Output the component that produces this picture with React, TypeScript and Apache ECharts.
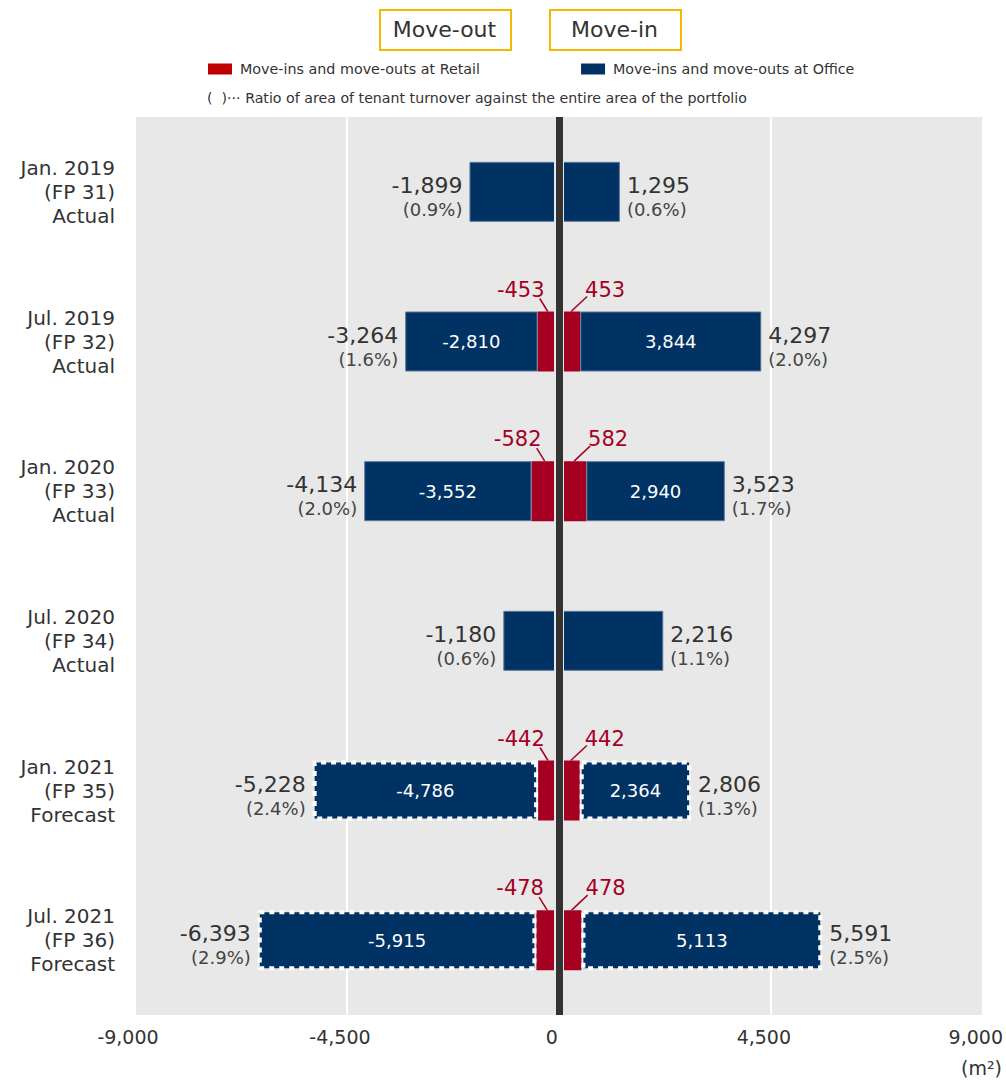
import React, { useEffect, useRef } from "react";
import * as echarts from "echarts";

const categories = [
  "Jan. 2019\n(FP 31)\nActual",
  "Jul. 2019\n(FP 32)\nActual",
  "Jan. 2020\n(FP 33)\nActual",
  "Jul. 2020\n(FP 34)\nActual",
  "Jan. 2021\n(FP 35)\nForecast",
  "Jul. 2021\n(FP 36)\nForecast",
];
const officeOut = [-1899, -2810, -3552, -1180, -4786, -5915];
const retailOut = [null, -453, -582, null, -442, -478];
const retailIn = [null, 453, 582, null, 442, 478];
const officeIn = [1295, 3844, 2940, 2216, 2364, 5113];
const totalOut = [-1899, -3264, -4134, -1180, -5228, -6393];
const totalIn = [1295, 4297, 3523, 2216, 2806, 5591];
const ratioOut = ["0.9%", "1.6%", "2.0%", "0.6%", "2.4%", "2.9%"];
const ratioIn = ["0.6%", "2.0%", "1.7%", "1.1%", "1.3%", "2.5%"];
const isForecast = [false, false, false, false, true, true];
const xTicks = { min: -9000, max: 9000, interval: 4500 };

const NAVY = "#003263";
const RED = "#a50021";
const FONT = "DejaVu Sans";
const TEXT = "#333333";
const BAR_W = 60;
const RETAIL_NAME = "Move-ins and move-outs at Retail";
const OFFICE_NAME = "Move-ins and move-outs at Office";

const fmt = (n: number) => n.toLocaleString("en-US");

function officeData(vals: number[]) {
  return vals.map((v, i) => ({
    value: v,
    label: { show: retailOut[i] != null },
    itemStyle: isForecast[i]
      ? { borderColor: "#ffffff", borderWidth: 4, borderType: [5, 5] }
      : { borderColor: "#5d7699", borderWidth: 1 },
  }));
}

export default function App() {
  const ref = useRef<HTMLDivElement>(null);
  useEffect(() => {
    if (!ref.current) return;
    const chart = echarts.init(ref.current, null, { renderer: "svg" });

    const retailLabelData: number[][] = [];
    retailOut.forEach((v, i) => {
      if (v != null) {
        retailLabelData.push([v, i]);
        retailLabelData.push([retailIn[i] as number, i]);
      }
    });

    const totalLabel = (side: "left" | "right") => ({
      show: true,
      position: side,
      distance: 7,
      offset: [0, 5],
      formatter: (p: any) => {
        const i = p.dataIndex;
        const v = side === "left" ? totalOut[i] : totalIn[i];
        const r = side === "left" ? ratioOut[i] : ratioIn[i];
        return `{a|${fmt(v)}}\n{b|(${r})}`;
      },
      rich: {
        a: { fontSize: 22, lineHeight: 25, color: TEXT, fontFamily: FONT },
        b: { fontSize: 18, lineHeight: 23, color: "#444444", fontFamily: FONT },
      },
    });

    const innerLabel = {
      position: "inside",
      color: "#ffffff",
      fontSize: 18,
      fontFamily: FONT,
      formatter: (p: any) => fmt(p.value),
    };

    chart.setOption({
      animation: false,
      textStyle: { fontFamily: FONT },
      grid: {
        left: 135,
        right: 19,
        top: 117,
        bottom: 65,
        show: true,
        backgroundColor: "#e8e8e8",
        borderWidth: 0,
      },
      legend: {
        left: 208,
        top: 62,
        padding: 0,
        itemWidth: 24,
        itemHeight: 11,
        itemGap: 101,
        selectedMode: false,
        textStyle: { fontSize: 14.3, color: TEXT, fontFamily: FONT, padding: [0, 0, 0, 3] },
        data: [
          { name: RETAIL_NAME, icon: "rect", itemStyle: { color: "#c00000", borderWidth: 0 } },
          { name: OFFICE_NAME, icon: "rect", itemStyle: { color: NAVY, borderWidth: 0 } },
        ],
      },
      xAxis: {
        type: "value",
        min: xTicks.min,
        max: xTicks.max,
        interval: xTicks.interval,
        axisLine: { show: false },
        axisTick: { show: false },
        splitLine: { show: true, lineStyle: { color: "#ffffff", width: 2 } },
        axisLabel: {
          fontSize: 19,
          color: TEXT,
          fontFamily: FONT,
          margin: 12,
          padding: [0, 14, 0, 0],
          formatter: (v: number) => fmt(v),
        },
      },
      yAxis: {
        type: "category",
        inverse: true,
        data: categories,
        axisLine: { show: false },
        axisTick: { show: false },
        splitLine: { show: false },
        axisLabel: {
          fontSize: 20,
          lineHeight: 24,
          color: TEXT,
          fontFamily: FONT,
          margin: 20,
          align: "right",
        },
      },
      series: [
        {
          name: RETAIL_NAME,
          type: "bar",
          stack: "a",
          barWidth: BAR_W,
          barGap: "-100%",
          data: retailOut,
          itemStyle: { color: RED },
          silent: true,
          z: 2,
        },
        {
          name: OFFICE_NAME,
          type: "bar",
          stack: "a",
          barWidth: BAR_W,
          barGap: "-100%",
          data: officeData(officeOut),
          itemStyle: { color: NAVY },
          label: innerLabel,
          silent: true,
          z: 2,
        },
        {
          name: RETAIL_NAME,
          type: "bar",
          stack: "a",
          barWidth: BAR_W,
          barGap: "-100%",
          data: retailIn,
          itemStyle: { color: RED },
          silent: true,
          z: 2,
        },
        {
          name: OFFICE_NAME,
          type: "bar",
          stack: "a",
          barWidth: BAR_W,
          barGap: "-100%",
          data: officeData(officeIn),
          itemStyle: { color: NAVY },
          label: innerLabel,
          silent: true,
          z: 2,
        },
        {
          name: "totalOut",
          type: "bar",
          stack: "b",
          barWidth: BAR_W,
          barGap: "-100%",
          data: totalOut,
          itemStyle: { color: "rgba(0,0,0,0)" },
          label: totalLabel("left"),
          silent: true,
          z: 3,
          markLine: {
            silent: true,
            symbol: ["none", "none"],
            label: { show: false },
            data: [
              { xAxis: 0, lineStyle: { color: "#e8e8e8", width: 10, type: "solid" } },
              { xAxis: 0, lineStyle: { color: "#333333", width: 7, type: "solid" } },
            ],
          },
        },
        {
          name: "totalIn",
          type: "bar",
          stack: "b",
          barWidth: BAR_W,
          barGap: "-100%",
          data: totalIn,
          itemStyle: { color: "rgba(0,0,0,0)" },
          label: totalLabel("right"),
          silent: true,
          z: 3,
        },
        {
          name: "retailLabels",
          type: "custom",
          coordinateSystem: "cartesian2d",
          encode: { x: 0, y: 1 },
          data: retailLabelData,
          silent: true,
          z: 4,
          renderItem: (params: any, api: any) => {
            const v = api.value(0);
            const c = api.value(1);
            const z0 = api.coord([0, c]);
            const e = api.coord([v, c]);
            const top = z0[1] - BAR_W / 2;
            const left = v < 0;
            const bx = left ? (e[0] + z0[0] - 5) / 2 + 2 : (e[0] + z0[0] + 5) / 2 - 1;
            const tx = left ? bx - 8 : bx + 16;
            const ty = top - (left ? 13 : 15);
            const lx = left ? bx - 27 : bx + 34;
            const ly = top - 22;
            return {
              type: "group",
              children: [
                {
                  type: "line",
                  shape: { x1: bx, y1: top, x2: tx, y2: ty },
                  style: { stroke: RED, lineWidth: 1.5 },
                },
                {
                  type: "text",
                  x: lx,
                  y: ly,
                  style: {
                    text: fmt(v),
                    fill: RED,
                    fontSize: 21,
                    fontFamily: FONT,
                    align: "center",
                    verticalAlign: "middle",
                    textAlign: "center",
                    textVerticalAlign: "middle",
                  },
                },
              ],
            };
          },
        },
      ],
      graphic: [
        {
          type: "rect",
          left: 379,
          top: 9,
          shape: { width: 131, height: 40 },
          style: { fill: "#ffffff", stroke: "#f5b800", lineWidth: 2 },
        },
        {
          type: "text",
          x: 444.5,
          y: 29,
          style: {
            text: "Move-out",
            fill: TEXT,
            fontSize: 22,
            fontFamily: FONT,
            align: "center",
            verticalAlign: "middle",
          },
        },
        {
          type: "rect",
          left: 549,
          top: 9,
          shape: { width: 131, height: 40 },
          style: { fill: "#ffffff", stroke: "#f5b800", lineWidth: 2 },
        },
        {
          type: "text",
          x: 614.5,
          y: 29,
          style: {
            text: "Move-in",
            fill: TEXT,
            fontSize: 22,
            fontFamily: FONT,
            align: "center",
            verticalAlign: "middle",
          },
        },
        {
          type: "text",
          x: 207,
          y: 98,
          style: {
            text: "(\u00a0\u00a0)\u00b7\u00b7\u00b7 Ratio of area of tenant turnover against the entire area of the portfolio",
            fill: TEXT,
            fontSize: 14.2,
            fontFamily: FONT,
            align: "left",
            verticalAlign: "middle",
          },
        },
        {
          type: "text",
          x: 1002,
          y: 1068,
          style: {
            text: "(m²)",
            fill: TEXT,
            fontSize: 19,
            fontFamily: FONT,
            align: "right",
            verticalAlign: "middle",
          },
        },
      ],
    });
    return () => chart.dispose();
  }, []);
  return (
    <div
      ref={ref}
      style={{ position: "absolute", left: 0, top: 0, width: 1006, height: 1080 }}
    />
  );
}
